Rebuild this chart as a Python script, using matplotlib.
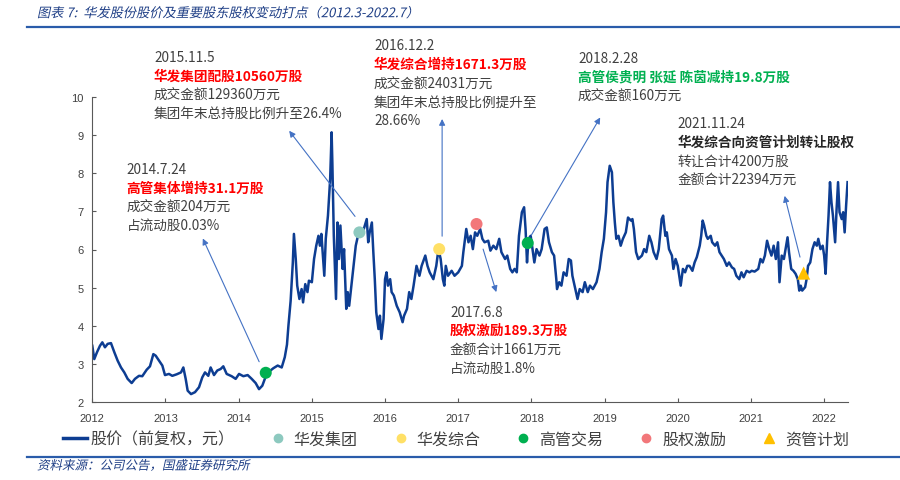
import matplotlib
matplotlib.use('Agg')
import matplotlib.pyplot as plt
from matplotlib.lines import Line2D
from matplotlib.patheffects import AbstractPathEffect
from matplotlib.transforms import Affine2D

plt.rcParams['font.family'] = ['Noto Sans CJK SC', 'DejaVu Sans']

# Share price (forward adjusted), x = position on the chart's year axis
price_x = [2012.000, 2012.027, 2012.064, 2012.105, 2012.137, 2012.173, 2012.210, 2012.255, 2012.301, 2012.346,
           2012.392, 2012.437, 2012.483, 2012.538, 2012.583, 2012.638, 2012.683, 2012.743, 2012.788, 2012.834,
           2012.866, 2012.911, 2012.957, 2012.993, 2013.048, 2013.093, 2013.153, 2013.212, 2013.244, 2013.276,
           2013.303, 2013.349, 2013.403, 2013.458, 2013.503, 2013.540, 2013.585, 2013.617, 2013.663, 2013.708,
           2013.754, 2013.790, 2013.836, 2013.904, 2013.959, 2014.005, 2014.064, 2014.123, 2014.178, 2014.232,
           2014.278, 2014.323, 2014.369, 2014.415, 2014.474, 2014.533, 2014.588,
           2014.63, 2014.66, 2014.68, 2014.71, 2014.74, 2014.755, 2014.78, 2014.80, 2014.83, 2014.86,
           2014.88, 2014.91, 2014.94, 2014.96, 2015.00, 2015.03, 2015.06, 2015.09, 2015.11, 2015.13,
           2015.16, 2015.17, 2015.19, 2015.22, 2015.25, 2015.27, 2015.28, 2015.30, 2015.33, 2015.35,
           2015.37, 2015.39, 2015.42, 2015.44, 2015.47, 2015.49, 2015.51, 2015.54, 2015.57, 2015.60,
           2015.63, 2015.68, 2015.71, 2015.75, 2015.77, 2015.79, 2015.82, 2015.84, 2015.86, 2015.88,
           2015.91, 2015.93, 2015.95, 2015.98, 2016.00, 2016.02, 2016.04, 2016.07, 2016.09, 2016.12,
           2016.16, 2016.20, 2016.24, 2016.26, 2016.30, 2016.33, 2016.36, 2016.39, 2016.43, 2016.47,
           2016.50, 2016.55, 2016.58, 2016.61, 2016.66, 2016.70, 2016.73, 2016.76, 2016.79, 2016.81,
           2016.83, 2016.86, 2016.91, 2016.95, 2017.00, 2017.05, 2017.07, 2017.11, 2017.14, 2017.17,
           2017.20, 2017.23, 2017.26, 2017.30, 2017.33, 2017.36, 2017.41, 2017.44, 2017.48, 2017.52,
           2017.56, 2017.59, 2017.64, 2017.67, 2017.71, 2017.74, 2017.77, 2017.80, 2017.83, 2017.87,
           2017.90, 2017.92, 2017.94,
           2017.96, 2017.99, 2018.02, 2018.04, 2018.07, 2018.11, 2018.14, 2018.18, 2018.21, 2018.24,
           2018.28, 2018.31, 2018.34, 2018.35, 2018.38, 2018.41, 2018.44, 2018.48, 2018.51, 2018.54,
           2018.56, 2018.59, 2018.63, 2018.66, 2018.70, 2018.73, 2018.77, 2018.80, 2018.84, 2018.89,
           2018.93, 2018.96, 2018.99, 2019.02, 2019.04, 2019.07, 2019.10, 2019.12, 2019.14, 2019.16,
           2019.19, 2019.22, 2019.25, 2019.29, 2019.32, 2019.36, 2019.38, 2019.40, 2019.43, 2019.46,
           2019.51, 2019.54, 2019.57, 2019.61, 2019.64, 2019.67, 2019.71, 2019.74, 2019.78, 2019.80,
           2019.83, 2019.85, 2019.88, 2019.92, 2019.94, 2019.97, 2020.00, 2020.02, 2020.04, 2020.07,
           2020.10, 2020.13,
           2020.16, 2020.20, 2020.23, 2020.26, 2020.30, 2020.32, 2020.34, 2020.36, 2020.39, 2020.41,
           2020.45, 2020.47, 2020.51, 2020.54, 2020.57, 2020.60, 2020.63, 2020.67, 2020.70, 2020.74,
           2020.77, 2020.80, 2020.84, 2020.87, 2020.90, 2020.94, 2020.98, 2021.01, 2021.05, 2021.10,
           2021.13, 2021.16, 2021.19, 2021.22, 2021.25, 2021.28, 2021.31, 2021.34, 2021.37, 2021.39,
           2021.42, 2021.45, 2021.48, 2021.50, 2021.52, 2021.55, 2021.58, 2021.61, 2021.64, 2021.66,
           2021.68, 2021.70, 2021.74, 2021.76, 2021.78, 2021.81, 2021.84, 2021.87, 2021.90, 2021.92,
           2021.95, 2021.98, 2022.00, 2022.02, 2022.04, 2022.06, 2022.08, 2022.10, 2022.12, 2022.15,
           2022.17, 2022.19, 2022.21, 2022.24, 2022.26, 2022.28, 2022.30, 2022.32]
price_y = [3.47, 3.12, 3.30, 3.47, 3.56, 3.43, 3.52, 3.54, 3.30, 3.08,
           2.90, 2.77, 2.60, 2.49, 2.60, 2.68, 2.67, 2.84, 2.93, 3.25,
           3.21, 3.08, 2.95, 2.70, 2.73, 2.68, 2.72, 2.77, 2.90, 2.60,
           2.29, 2.20, 2.25, 2.38, 2.64, 2.77, 2.68, 2.90, 2.70, 2.82,
           2.86, 2.93, 2.73, 2.67, 2.60, 2.73, 2.67, 2.70, 2.60, 2.49,
           2.33, 2.42, 2.66, 2.79, 2.88, 2.95, 2.90,
           3.17, 3.50, 4.00, 4.65, 5.66, 6.41, 5.75, 5.05, 4.70, 4.96,
           4.61, 5.09, 4.88, 5.18, 5.14, 5.75, 6.10, 6.36, 6.10, 6.41,
           5.57, 5.31, 6.28, 6.89, 7.85, 9.08, 8.29, 6.36, 4.70, 6.71,
           5.75, 6.63, 5.49, 6.01, 4.44, 4.88, 4.52, 5.05, 5.57, 6.10,
           6.36, 6.36, 6.54, 6.80, 6.19, 6.45, 6.71, 5.93, 5.22, 4.35,
           3.91, 4.26, 3.65, 4.17, 5.22, 5.40, 5.05, 5.22, 4.88, 4.79,
           4.52, 4.35, 4.09, 4.26, 4.44, 4.88, 4.70, 5.05, 5.57, 5.31,
           5.57, 5.84, 5.57, 5.40, 5.22, 5.57, 6.01, 5.75, 5.22, 5.05,
           5.57, 5.31, 5.44, 5.31, 5.40, 5.57, 5.93, 6.54, 6.19, 6.36,
           6.01, 6.45, 6.36, 6.54, 6.28, 6.19, 6.23, 5.97, 6.10, 6.01,
           6.28, 5.93, 5.75, 5.84, 5.49, 5.40, 5.49, 5.40, 6.36, 6.98,
           7.11, 6.54, 5.66,
           6.28, 6.36, 5.93, 5.66, 6.01, 5.84, 6.01, 6.54, 6.58, 6.19,
           5.93, 5.84, 5.22, 4.96, 5.14, 5.05, 5.40, 5.31, 5.75, 5.71,
           5.31, 5.05, 4.70, 4.96, 4.88, 5.14, 4.88, 5.05, 4.96, 5.14,
           5.49, 5.93, 6.28, 6.98, 7.77, 8.20, 8.03, 7.24, 6.71, 6.28,
           6.36, 6.10, 6.28, 6.45, 6.84, 6.76, 6.80, 6.54, 5.93, 5.75,
           5.84, 6.01, 5.93, 6.36, 6.19, 5.93, 5.75, 6.01, 6.80, 6.89,
           6.36, 6.45, 6.01, 5.84, 5.49, 5.75, 5.57, 5.31, 5.05, 5.49,
           5.40, 5.57,
           5.57, 5.44, 5.66, 5.80, 6.10, 6.36, 6.76, 6.63, 6.36, 6.28,
           6.36, 6.19, 6.10, 6.19, 5.93, 5.84, 5.75, 5.57, 5.66, 5.53,
           5.49, 5.31, 5.22, 5.40, 5.27, 5.44, 5.40, 5.44, 5.42, 5.49,
           5.75, 5.66, 5.84, 6.23, 6.01, 5.84, 6.10, 5.75, 6.19, 5.14,
           5.84, 5.75, 6.10, 6.32, 5.93, 5.49, 5.44, 5.36, 5.22, 4.92,
           5.05, 4.92, 5.01, 5.22, 5.57, 5.66, 6.01, 6.19, 6.10, 6.28,
           6.01, 6.10, 5.84, 5.36, 6.19, 6.89, 7.77, 7.24, 6.89, 6.19,
           7.06, 7.77, 6.98, 6.80, 6.98, 6.45, 7.15, 7.77]

# Event markers
group_x, group_y = [2015.65], [6.45]            # 华发集团
zonghe_x, zonghe_y = [2016.74], [6.01]          # 华发综合
exec_x, exec_y = [2014.37, 2017.95], [2.76, 6.17]  # 高管交易
incent_x, incent_y = [2017.25], [6.67]          # 股权激励
asset_x, asset_y = [2021.72], [5.38]            # 资管计划

year_ticks = list(range(2012, 2023))
price_ticks = list(range(2, 11))

series_names = ['股价（前复权，元）', '华发集团', '华发综合', '高管交易', '股权激励', '资管计划']

LINE_C = '#0D3D92'
TEAL = '#8DC9BF'
YELLOW = '#FFE066'
GREEN = '#00B050'
SALMON = '#F2777A'
ORANGE = '#FFC000'
ARROW_C = '#4472C4'
GREY_TXT = '#404040'
BLUE_TXT = '#1F3F86'

W, H = 900, 481


def fpos(x, y):
    # pixel position on the 900x481 canvas -> figure fraction
    return x / W, 1 - y / H


class Oblique(AbstractPathEffect):
    # fake italic for the CJK font, which has no italic face
    def __init__(self, angle=12):
        super().__init__()
        self.angle = angle

    def draw_path(self, renderer, gc, tpath, affine, rgbFace=None):
        renderer.draw_path(gc, tpath, Affine2D().skew_deg(self.angle, 0) + affine, rgbFace)


fig = plt.figure(figsize=(9, 4.81), dpi=100)
ax = fig.add_axes([92.3 / W, 1 - 402.7 / H, (848.3 - 92.3) / W, (402.7 - 98.3) / H])

ax.plot(price_x, price_y, color=LINE_C, lw=1.8, zorder=2)
ax.scatter(group_x, group_y, s=75, color=TEAL, edgecolors='none', zorder=4)
ax.scatter(zonghe_x, zonghe_y, s=75, color=YELLOW, edgecolors='none', zorder=4)
ax.scatter(exec_x, exec_y, s=75, color=GREEN, edgecolors='none', zorder=4)
ax.scatter(incent_x, incent_y, s=75, color=SALMON, edgecolors='none', zorder=4)
ax.scatter(asset_x, asset_y, s=90, marker='^', color=ORANGE, edgecolors='none', zorder=4)

ax.set_xlim(2012, 2022.33)
ax.set_ylim(2, 10)
ax.set_xticks(year_ticks)
ax.set_yticks(price_ticks)
ax.tick_params(direction='in', length=3, width=0.8, color='#595959', labelsize=8,
               labelcolor=GREY_TXT)
ax.tick_params(axis='y', pad=6)
ax.tick_params(axis='x', pad=8)
for lab in ax.get_xticklabels() + ax.get_yticklabels():
    lab.set_family('Liberation Sans')
for s in ['top', 'right']:
    ax.spines[s].set_visible(False)
for s in ['left', 'bottom']:
    ax.spines[s].set_color('#595959')
    ax.spines[s].set_linewidth(0.8)

# arrows: (tail, head) in data coords
arrows = [
    ((2014.28, 3.05), (2013.51, 6.29)),
    ((2015.59, 6.87), (2014.69, 9.12)),
    ((2016.78, 6.35), (2016.78, 9.43)),
    ((2017.34, 6.01), (2017.52, 4.88)),
    ((2018.00, 6.38), (2018.94, 9.47)),
    ((2021.67, 5.80), (2021.46, 7.41)),
]
for tail, head in arrows:
    ax.annotate('', xy=head, xytext=tail,
                arrowprops=dict(arrowstyle='-|>', color=ARROW_C, lw=0.8,
                                shrinkA=0, shrinkB=0, mutation_scale=9))

# annotation blocks: left x px, first-line y px, lines
styles = {'n': (GREY_TXT, 'normal'), 'r': ('#FF0000', 'bold'),
          'g': (GREEN, 'bold'), 'k': ('#262626', 'bold')}
notes = [
    (126.7, 170, [('2014.7.24', 'n'), ('高管集体增持31.1万股', 'r'),
                  ('成交金额204万元', 'n'), ('占流动股0.03%', 'n')]),
    (154, 58, [('2015.11.5', 'n'), ('华发集团配股10560万股', 'r'),
               ('成交金额129360万元', 'n'), ('集团年末总持股比例升至26.4%', 'n')]),
    (374, 46.5, [('2016.12.2', 'n'), ('华发综合增持1671.3万股', 'r'),
                 ('成交金额24031万元', 'n'), ('集团年末总持股比例提升至', 'n'), ('28.66%', 'n')]),
    (578, 59, [('2018.2.28', 'n'), ('高管侯贵明 张延 陈茵减持19.8万股', 'g'),
               ('成交金额160万元', 'n')]),
    (677.7, 124.3, [('2021.11.24', 'n'), ('华发综合向资管计划转让股权', 'k'),
                    ('转让合计4200万股', 'n'), ('金额合计22394万元', 'n')]),
    (450, 312.7, [('2017.6.8', 'n'), ('股权激励189.3万股', 'r'),
                  ('金额合计1661万元', 'n'), ('占流动股1.8%', 'n')]),
]
for x0, y0, lines in notes:
    for i, (txt, st) in enumerate(lines):
        c, w = styles[st]
        fx, fy = fpos(x0, y0 + i * 18.6)
        fig.text(fx, fy, txt, color=c, fontweight=w, fontsize=9.8, ha='left', va='center')

# title, rules, source
fx, fy = fpos(37, 14.7)
fig.text(fx, fy, '图表 7:  华发股份股价及重要股东股权变动打点（2012.3-2022.7）', color=BLUE_TXT,
         fontsize=9.5, ha='left', va='center', path_effects=[Oblique(12)])
fig.add_artist(Line2D([27 / W, 1], [1 - 28.3 / H] * 2, color='#2A5CAA', lw=1.6))
fig.add_artist(Line2D([27 / W, 1], [1 - 457.7 / H] * 2, color='#2A5CAA', lw=1.6))
fx, fy = fpos(37, 467)
fig.text(fx, fy, '资料来源：公司公告，国盛证券研究所', color=BLUE_TXT,
         fontsize=9, ha='left', va='center', path_effects=[Oblique(12)])

# legend
handles = [
    Line2D([], [], color=LINE_C, lw=2.5),
    Line2D([], [], marker='o', ls='', ms=6, color=TEAL),
    Line2D([], [], marker='o', ls='', ms=6, color=YELLOW),
    Line2D([], [], marker='o', ls='', ms=6, color=GREEN),
    Line2D([], [], marker='o', ls='', ms=6, color=SALMON),
    Line2D([], [], marker='^', ls='', ms=7, color=ORANGE),
]
fig.legend(handles, series_names, loc='center left', bbox_to_anchor=fpos(63, 440),
           ncol=6, frameon=False, fontsize=11.5, handlelength=1.5, handletextpad=0.25,
           columnspacing=1.93, borderpad=0, borderaxespad=0, labelcolor=GREY_TXT)

fig.savefig('out.png', dpi=100)
